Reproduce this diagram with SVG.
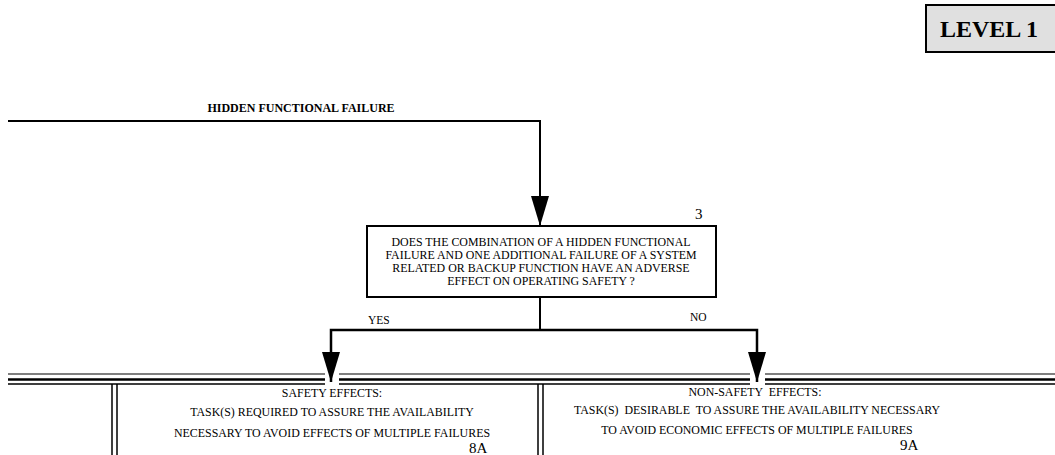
<svg xmlns="http://www.w3.org/2000/svg" width="1055" height="455" viewBox="0 0 1055 455">
  <style>
    .t { font-family: "Liberation Serif", "Times New Roman", serif; fill: #000; }
    .s { font-size: 11.9px; }
    .ln { stroke: #000; fill: none; }
  </style>
  <defs>
    <!-- solid arrowhead, drawn pointing along +x so orient="auto" follows the line -->
    <marker id="arrow" viewBox="0 0 30 18" refX="30" refY="9" markerWidth="30" markerHeight="18" markerUnits="userSpaceOnUse" orient="auto-start-reverse">
      <path d="M0,0 L30,9 L0,18 Z" fill="#000"/>
    </marker>
  </defs>
  <rect width="1055" height="455" fill="#fff"/>

  <!-- level tag -->
  <g id="level">
    <rect x="926" y="5" width="135" height="47" fill="#e0e0e0" stroke="#000" stroke-width="2"/>
    <text class="t" x="940" y="37" font-size="24" font-weight="bold">LEVEL 1</text>
  </g>

  <g id="hidden-failure">
    <text class="t" x="301" y="112" font-size="12" font-weight="bold" text-anchor="middle">HIDDEN FUNCTIONAL FAILURE</text>
  </g>

  <!-- decision 3 -->
  <g id="q3">
    <rect x="367" y="226" width="349" height="71" fill="#fff" stroke="#000" stroke-width="2"/>
    <text class="t" x="695" y="219" font-size="15">3</text>
    <text class="t s" x="541" y="246" text-anchor="middle">DOES THE COMBINATION OF A HIDDEN FUNCTIONAL</text>
    <text class="t s" x="541" y="259" text-anchor="middle">FAILURE AND ONE ADDITIONAL FAILURE OF A SYSTEM</text>
    <text class="t s" x="541" y="272" text-anchor="middle">RELATED OR BACKUP FUNCTION HAVE AN ADVERSE</text>
    <text class="t s" x="541" y="285" text-anchor="middle">EFFECT ON OPERATING SAFETY ?</text>
  </g>

  <!-- outcome band rules -->
  <g id="band" class="ln">
    <path d="M8,374 H325 M339,374 H750 M765,374 H1055" stroke-width="1.2"/>
    <path d="M8,379.5 H325 M339,379.5 H750 M765,379.5 H1055" stroke-width="2.5"/>
    <path d="M8,384 H325 M339,384 H750 M765,384 H1055" stroke-width="1.5"/>
    <path d="M112,384 V455 M117,384 V455" stroke-width="1.5"/>
    <path d="M538,384 V455 M543,384 V455" stroke-width="1.5"/>
  </g>

  <g id="safety">
    <text class="t s" x="332" y="397" text-anchor="middle">SAFETY EFFECTS:</text>
    <text class="t s" x="332" y="416" text-anchor="middle">TASK(S) REQUIRED TO ASSURE THE AVAILABILITY</text>
    <text class="t s" x="332" y="437" text-anchor="middle">NECESSARY TO AVOID EFFECTS OF MULTIPLE FAILURES</text>
    <text class="t" x="469" y="453" font-size="15">8A</text>
  </g>

  <g id="non-safety">
    <text class="t s" x="755" y="396" text-anchor="middle" xml:space="preserve">NON-SAFETY  EFFECTS:</text>
    <text class="t s" x="757" y="414" text-anchor="middle" xml:space="preserve">TASK(S)  DESIRABLE  TO ASSURE THE AVAILABILITY NECESSARY</text>
    <text class="t s" x="757" y="434" text-anchor="middle">TO AVOID ECONOMIC EFFECTS OF MULTIPLE FAILURES</text>
    <text class="t" x="900" y="450" font-size="15">9A</text>
  </g>

  <!-- connectors -->
  <g id="connectors" class="ln">
    <path d="M8,121 H540 V226" stroke-width="2" marker-end="url(#arrow)"/>
    <path d="M540,297 V330" stroke-width="2"/>
    <path d="M331,382 V330 H757 V382" stroke-width="2.5" stroke-linejoin="miter" marker-start="url(#arrow)" marker-end="url(#arrow)"/>
    <text class="t" x="368" y="324" font-size="11.5" stroke="none">YES</text>
    <text class="t" x="690" y="321" font-size="11.5" stroke="none">NO</text>
  </g>
</svg>
